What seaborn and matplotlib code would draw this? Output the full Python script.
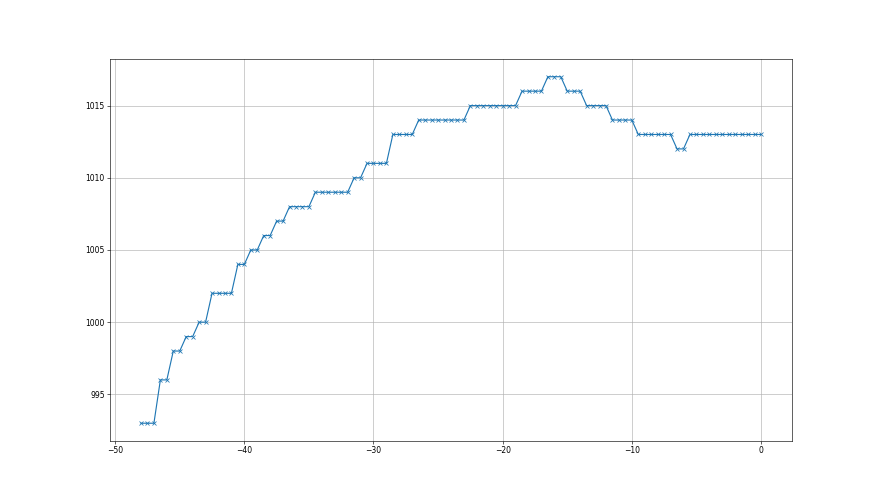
import numpy as np
import pandas as pd
import matplotlib
matplotlib.use("Agg")
import matplotlib.pyplot as plt
import seaborn as sns

# hours relative to now, step 0.5
x_values = [-48 + 0.5 * i for i in range(97)]
pressure = (
    [993] * 3 + [996] * 2 + [998] * 2 + [999] * 2 + [1000] * 2 + [1002] * 4 +
    [1004] * 2 + [1005] * 2 + [1006] * 2 + [1007] * 2 + [1008] * 4 + [1009] * 6 +
    [1010] * 2 + [1011] * 4 + [1013] * 4 + [1014] * 8 + [1015] * 8 + [1016] * 4 +
    [1017] * 3 + [1016] * 3 + [1015] * 4 + [1014] * 4 + [1013] * 6 + [1012] * 2 +
    [1013] * 12
)

df = pd.DataFrame({"x": x_values, "pressure": pressure})

fig, ax = plt.subplots(figsize=(16, 9), dpi=55)
sns.lineplot(data=df, x="x", y="pressure", ax=ax, color="#1f77b4",
             marker="x", markeredgecolor="#1f77b4", markeredgewidth=1.0,
             markersize=6, linewidth=1.5)
ax.grid(True, color="#b0b0b0", linewidth=0.8)
ax.set_xlabel("")
ax.set_ylabel("")
ax.set_xticks([-50, -40, -30, -20, -10, 0])
ax.set_yticks([995, 1000, 1005, 1010, 1015])
fig.subplots_adjust(left=0.125, right=0.9, top=0.88, bottom=0.11)
fig.savefig("out.png", dpi=55)
